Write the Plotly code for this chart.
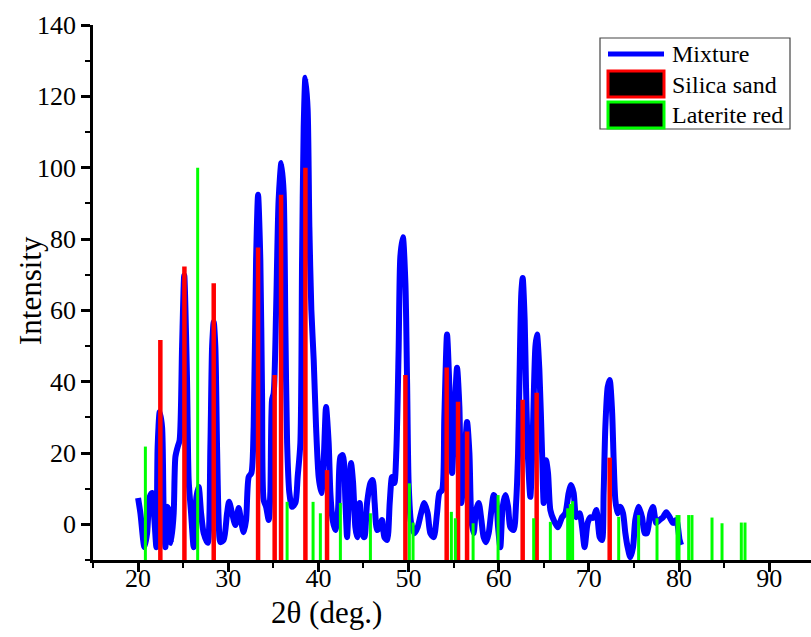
import plotly.graph_objects as go

# ---------------- data ----------------
mix_x = [20.0, 20.26, 20.70, 21.0, 21.29, 21.55, 21.81, 22.03, 22.17, 22.40,
         22.66, 22.84, 23.03, 23.22, 23.50, 23.66, 23.95, 24.14, 24.39, 24.61,
         24.88, 25.12, 25.43, 25.61, 25.88, 26.17, 26.47, 26.72, 26.99, 27.28,
         27.72, 28.02, 28.21, 28.39, 28.57, 28.76, 28.94, 29.13, 29.49, 29.87,
         30.09, 30.43, 30.79, 31.16, 31.46, 31.71, 31.98, 32.27, 32.57, 32.82,
         33.09, 33.31, 33.56, 33.75, 33.93, 34.20, 34.49, 34.67, 34.86, 35.04,
         35.31, 35.59, 35.89, 36.15, 36.34, 36.53, 36.78, 37.08, 37.45, 37.70,
         38.00, 38.19, 38.37, 38.56, 38.81, 39.00, 39.22, 39.48, 39.74, 40.03,
         40.33, 40.59, 40.85, 41.14, 41.33, 41.58, 41.88, 42.18, 42.44, 42.71,
         42.99, 43.18, 43.36, 43.62, 43.85, 44.10, 44.29, 44.58, 44.84, 45.10,
         45.40, 45.77, 46.02, 46.24, 46.51, 46.80, 47.06, 47.32, 47.62, 47.91,
         48.17, 48.43, 48.65, 48.90, 49.09, 49.37, 49.65, 49.84, 50.01, 50.28,
         50.65, 51.01, 51.39, 51.75, 52.12, 52.42, 52.79, 53.16, 53.42, 53.72,
         53.97, 54.27, 54.53, 54.83, 55.08, 55.38, 55.64, 55.86, 56.11, 56.49,
         56.75, 56.97, 57.22, 57.49, 57.78, 58.08, 58.33, 58.60, 58.89, 59.19,
         59.44, 59.71, 59.93, 60.18, 60.44, 60.74, 61.04, 61.29, 61.66, 61.93,
         62.15, 62.29, 62.51, 62.66, 62.88, 63.03, 63.26, 63.51, 63.77, 64.07,
         64.25, 64.51, 64.81, 64.99, 65.25, 65.47, 65.73, 66.10, 66.54, 67.03,
         67.39, 67.76, 68.03, 68.31, 68.61, 68.98, 69.25, 69.53, 69.87, 70.17,
         70.47, 70.84, 71.20, 71.46, 71.64, 71.83, 72.09, 72.31, 72.57, 72.75,
         72.94, 73.19, 73.49, 73.79, 74.05, 74.30, 74.60, 74.90, 75.15, 75.52,
         75.90, 76.19, 76.45, 76.82, 77.12, 77.48, 77.85, 78.23, 78.59, 78.96,
         79.34, 79.70, 80.07, 80.23]
mix_y = [7.4, 3.1, -6.4, -2.5, 7.7, 8.8, 1.2, -6.4, 21.7, 31.5,
         27.3, 3.1, -6.4, 4.9, 3.1, -5.2, 3.1, 18.9, 21.7, 23.6,
         49.8, 69.8, 40.5, 12.4, 3.1, -6.4, 7.7, 10.5, 3.1, -2.5,
         -5.2, 21.7, 49.8, 56.8, 49.8, 21.7, 1.2, -5.0, -4.4, 3.1,
         6.3, 3.1, -0.2, 4.6, 0.4, -2.2, 1.2, 13.3, 14.4, 27.3,
         74.1, 92.4, 74.1, 36.8, 6.8, 4.9, 1.2, 8.8, 34.9, 36.8,
         60.1, 91.0, 101.3, 92.9, 55.4, 22.8, 8.8, 4.9, 6.0, 13.3,
         22.8, 74.1, 111.4, 125.2, 116.2, 83.4, 60.1, 46.1, 27.3, 13.3,
         8.8, 18.0, 32.9, 22.8, 8.8, 1.2, -1.6, 4.0, 18.9, 19.4,
         6.8, -3.6, 6.0, 17.2, 11.6, -0.8, -3.6, 6.0, -2.5, -3.6,
         6.0, 11.6, 12.4, 6.0, -1.6, -0.8, 1.2, -3.6, -4.4, 6.0,
         13.3, 11.6, 20.8, 48.9, 75.0, 80.5, 67.7, 39.7, 11.6, 0.4,
         -2.5, -0.8, 3.1, 6.0, 3.1, -2.5, -3.6, 3.1, 8.8, 9.6,
         30.1, 53.2, 38.5, 14.4, 29.3, 43.9, 32.9, 6.0, 14.4, 28.7,
         20.0, 1.2, -2.5, 4.0, 6.0, 1.2, -3.6, -5.0, -2.5, 4.0,
         8.2, 6.8, -0.8, -6.4, 4.9, 8.2, 4.9, -0.8, -1.6, 6.0,
         20.0, 38.5, 64.9, 69.1, 57.3, 38.5, 18.0, 7.7, 24.5, 49.8,
         53.2, 43.3, 20.0, 6.0, 18.0, 14.4, 4.0, 1.2, -0.8, 2.0,
         3.1, 8.8, 11.0, 8.8, 2.0, 3.1, -0.8, -6.4, 0.4, 2.0,
         1.8, 4.0, -3.6, -4.4, 8.8, 27.3, 38.5, 40.5, 32.1, 18.0,
         6.8, 3.1, 4.9, 3.1, -2.5, -6.4, -9.2, -6.4, 1.2, 4.9,
         2.0, -2.5, -2.5, 3.1, 4.9, 0.4, 1.2, 2.0, 3.4, 2.0,
         0.4, 1.2, -4.4, -5.8]

silica_x = [22.47, 25.14, 28.39, 33.31, 35.15, 35.86, 38.56, 40.96, 49.65,
            54.23, 55.49, 56.49, 62.66, 64.21, 72.31]
silica_y = [51.7, 72.3, 67.6, 77.6, 41.9, 92.4, 100.0, 15.2, 41.9,
            44.0, 34.4, 26.0, 34.9, 36.9, 18.7]

laterite_x = [20.81, 26.61, 36.53, 39.41, 40.22, 42.44, 45.77, 50.09, 50.50,
              54.75, 55.19, 57.16, 59.93, 63.88, 65.73, 67.65, 67.95, 68.20,
              73.31, 75.52, 77.56, 79.78, 80.00, 81.07, 81.44, 83.66, 84.77,
              86.91, 87.32]
laterite_y = [21.8, 100.0, 6.3, 6.3, 3.1, 6.0, 3.1, 11.5, 0.5,
              3.5, 1.7, 0.3, 8.2, 1.7, 0.7, 4.5, 5.7, 6.5,
              2.1, 2.6, 1.7, 2.6, 2.6, 2.6, 2.6, 1.9, 0.3,
              0.5, 0.5]

series_names = ["Mixture", "Silica sand", "Laterite red"]
x_ticks = [20, 30, 40, 50, 60, 70, 80, 90]
y_ticks = [0, 20, 40, 60, 80, 100, 120, 140]

assert len(mix_x) == len(mix_y)

Y_MIN, Y_MAX = -10, 140
X_MIN, X_MAX = 15, 94.64
FONT = "Liberation Serif, Times New Roman, serif"


def sticks(xs, ys, base):
    sx, sy = [], []
    for x, y in zip(xs, ys):
        sx += [x, x, None]
        sy += [base, y, None]
    return sx, sy


fig = go.Figure()
fig.add_trace(go.Scatter(x=mix_x, y=mix_y, mode="lines", name=series_names[0],
                         line=dict(color="#0000ff", width=6, shape="spline", smoothing=0.7),
                         showlegend=False))
sx, sy = sticks(silica_x, silica_y, Y_MIN)
fig.add_trace(go.Scatter(x=sx, y=sy, mode="lines", name=series_names[1],
                         line=dict(color="#ff0000", width=4.5), showlegend=False))
gx, gy = sticks(laterite_x, laterite_y, Y_MIN)
fig.add_trace(go.Scatter(x=gx, y=gy, mode="lines", name=series_names[2],
                         line=dict(color="#00ff00", width=3), showlegend=False))

W, H = 811, 637
ML, MR, MT, MB = 93, 0, 25, 77
PW, PH = W - ML - MR, H - MT - MB


def px(xp):
    return (xp - ML) / PW


def py(yp):
    return (H - MB - yp) / PH


shapes = []
annotations = []
# custom legend
shapes.append(dict(type="rect", xref="paper", yref="paper",
                   x0=px(600), x1=px(790), y0=py(129), y1=py(38),
                   line=dict(color="#444444", width=1.2), fillcolor="white"))
shapes.append(dict(type="line", xref="paper", yref="paper",
                   x0=px(608), x1=px(664), y0=py(54), y1=py(54),
                   line=dict(color="#0000ff", width=5)))
shapes.append(dict(type="rect", xref="paper", yref="paper",
                   x0=px(608), x1=px(664), y0=py(97), y1=py(71),
                   line=dict(color="#ff0000", width=3), fillcolor="black"))
shapes.append(dict(type="rect", xref="paper", yref="paper",
                   x0=px(608), x1=px(664), y0=py(128), y1=py(102),
                   line=dict(color="#00ff00", width=3), fillcolor="black"))
for name, yc in zip(series_names, [54, 85, 115]):
    annotations.append(dict(text=name, xref="paper", yref="paper",
                            x=px(670), y=py(yc), xanchor="left", yanchor="middle",
                            showarrow=False, font=dict(family=FONT, size=24, color="black")))

annotations.append(dict(text="2θ (deg.)", xref="paper", yref="paper",
                        x=px(326), y=py(612), xanchor="center", yanchor="middle",
                        showarrow=False, font=dict(family=FONT, size=31, color="black")))
annotations.append(dict(text="Intensity", xref="paper", yref="paper",
                        x=px(30), y=py(291), xanchor="center", yanchor="middle",
                        textangle=-90, showarrow=False,
                        font=dict(family=FONT, size=31, color="black")))

axis_common = dict(showline=True, linecolor="black", linewidth=2.5,
                   ticks="outside", ticklen=9, tickwidth=2.5, tickcolor="black",
                   showgrid=False, zeroline=False,
                   tickfont=dict(family=FONT, size=26, color="black"))

fig.update_layout(
    width=W, height=H,
    margin=dict(l=ML, r=MR, t=MT, b=MB, autoexpand=False),
    paper_bgcolor="white", plot_bgcolor="white",
    showlegend=False,
    xaxis=dict(range=[X_MIN, X_MAX], tickvals=x_ticks,
               ticktext=[str(v) for v in x_ticks],
               ticklabelstandoff=-16,
               minor=dict(dtick=5, tick0=0, ticklen=5, tickwidth=2, ticks="outside",
                          tickcolor="black"),
               **axis_common),
    yaxis=dict(range=[Y_MIN, Y_MAX], tickvals=y_ticks,
               ticktext=[str(v) for v in y_ticks],
               minor=dict(dtick=10, tick0=0, ticklen=5, tickwidth=2, ticks="outside",
                          tickcolor="black"),
               **axis_common),
    shapes=shapes,
    annotations=annotations,
)

fig.write_html("out.html")
